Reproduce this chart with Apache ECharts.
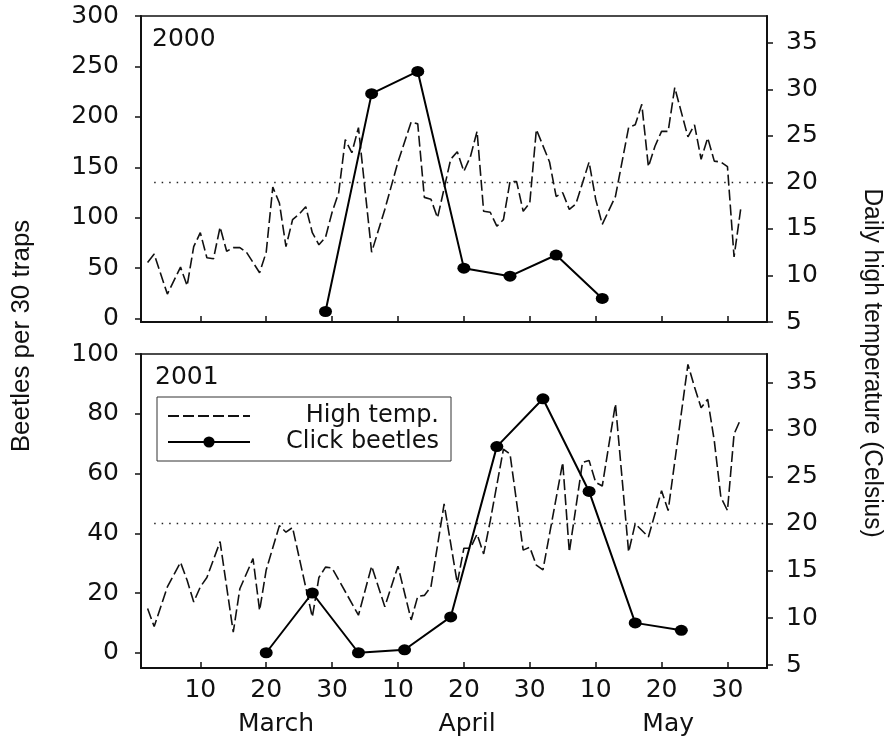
<!DOCTYPE html>
<html>
<head>
<meta charset="utf-8">
<title>Click beetles and daily high temperature, 2000 and 2001</title>
<script src="https://cdn.jsdelivr.net/npm/echarts@6.0.0/dist/echarts.min.js"></script>
<style>
  html, body { margin: 0; padding: 0; background: #fff; }
  #chart { width: 895px; height: 738px; }
</style>
</head>
<body>
<div id="chart"></div>
<script>
// day 1 = 1 March; the axis counts each month as 30 days (10, 20, 30 repeat)
const tempDays2000 = [2, 3, 5, 7, 8, 9, 10, 11, 12, 13, 14, 15, 16, 17, 19, 20, 21, 22, 23, 24, 25, 26, 27, 28, 29, 30, 31, 32, 33, 34, 36, 38, 40, 42, 43, 44, 45, 46, 48, 49, 50, 51, 52, 53, 54, 55, 56, 57, 58, 59, 60, 61, 63, 64, 65, 66, 67, 69, 70, 71, 73, 75, 76, 77, 78, 79, 80, 81, 82, 84, 85, 86, 87, 88, 89, 90, 91, 92]
const temp2000 = [11.4, 12.3, 8.0, 10.9, 8.9, 13.1, 14.6, 11.9, 11.8, 15.2, 12.6, 13.0, 13.0, 12.5, 10.3, 12.5, 19.5, 17.8, 13.1, 16.0, 16.6, 17.4, 14.6, 13.3, 14.1, 16.8, 18.9, 24.6, 23.2, 25.9, 12.5, 17.1, 22.2, 26.5, 26.3, 18.4, 18.2, 16.2, 22.5, 23.3, 21.2, 22.8, 25.5, 16.9, 16.8, 15.3, 16.0, 20.1, 20.1, 16.9, 17.8, 25.7, 22.2, 18.5, 18.9, 17.1, 17.7, 22.2, 18.2, 15.5, 18.5, 25.9, 26.2, 28.4, 21.7, 23.9, 25.5, 25.5, 30.2, 24.9, 26.2, 22.5, 24.8, 22.3, 22.2, 21.7, 12.0, 17.1]
const beetleDays2000 = [29, 36, 43, 50, 57, 64, 71]
const beetles2000 = [7, 223, 245, 50, 42, 63, 20]

const tempDays2001 = [2, 3, 5, 7, 8, 9, 10, 11, 13, 15, 16, 18, 19, 20, 22, 23, 24, 27, 28, 29, 30, 34, 36, 38, 40, 42, 43, 44, 45, 47, 49, 50, 51, 52, 53, 54, 56, 57, 59, 60, 61, 62, 65, 66, 68, 69, 70, 71, 73, 75, 76, 78, 80, 81, 84, 85, 86, 87, 88, 89, 90, 91, 92]
const temp2001 = [11.0, 9.1, 13.3, 15.9, 14.0, 11.7, 13.3, 14.3, 18.1, 8.5, 13.1, 16.3, 10.8, 15.1, 19.8, 19.1, 19.6, 10.1, 14.3, 15.4, 15.3, 10.3, 15.5, 11.2, 15.5, 9.8, 12.3, 12.4, 13.3, 22.1, 13.7, 17.4, 17.4, 18.9, 16.8, 20.3, 27.9, 27.4, 17.2, 17.5, 15.6, 15.1, 26.5, 17.0, 26.5, 26.7, 24.4, 24.0, 32.7, 17.0, 20.0, 18.6, 23.5, 21.4, 36.9, 34.5, 32.3, 33.2, 28.8, 22.8, 21.4, 29.5, 31.1]
const beetleDays2001 = [20, 27, 34, 41, 48, 55, 62, 69, 76, 83]
const beetles2001 = [0, 20, 0, 1, 12, 69, 85, 54, 10, 7.5]

const dayTicks = [10, 20, 30, 40, 50, 60, 70, 80, 90]
const monthNames = ['March', 'April', 'May']
const monthCentres = [21.5, 50.5, 81]
const beetleTicks2000 = [0, 50, 100, 150, 200, 250, 300]
const beetleTicks2001 = [0, 20, 40, 60, 80, 100]
const tempTicks = [5, 10, 15, 20, 25, 30, 35]
const referenceTemp = 20

const ink = '#111'
const labelFont = 'DejaVu Sans'
const titleFont = "'Liberation Sans', Arial, sans-serif"

function pairs (xs, ys) {
  return xs.map((x, i) => [x, ys[i]])
}

function dayAxis (gridIndex, showLabels) {
  return {
    type: 'value',
    gridIndex: gridIndex,
    min: 1,
    max: 96,
    axisLine: { onZero: false, lineStyle: { color: ink, width: 2 } },
    axisTick: { inside: true, length: 6, customValues: dayTicks, lineStyle: { color: ink, width: 1.5 } },
    axisLabel: {
      show: showLabels,
      customValues: dayTicks,
      formatter: v => String(((v - 1) % 30) + 1),
      margin: 10,
      color: ink,
      fontSize: 25,
      fontFamily: labelFont
    },
    splitLine: { show: false }
  }
}

function valueAxis (gridIndex, position, min, max, ticks) {
  return {
    type: 'value',
    gridIndex: gridIndex,
    position: position,
    min: min,
    max: max,
    axisLine: { show: true, onZero: false, lineStyle: { color: ink, width: 2 } },
    axisTick: { show: true, length: 6, customValues: ticks, lineStyle: { color: ink, width: 1.5 } },
    axisLabel: {
      customValues: ticks,
      margin: position === 'left' ? 22 : 19,
      color: ink,
      fontSize: 25,
      fontFamily: labelFont
    },
    splitLine: { show: false }
  }
}

function tempSeries (axisIndex, yIndex, days, temps) {
  return {
    type: 'line',
    name: 'High temp.',
    xAxisIndex: axisIndex,
    yAxisIndex: yIndex,
    data: pairs(days, temps),
    symbol: 'none',
    z: 2,
    itemStyle: { color: ink },
    lineStyle: { color: ink, width: 1.6, type: [11, 4] },
    markLine: {
      silent: true,
      symbol: ['none', 'none'],
      label: { show: false },
      lineStyle: { color: '#222', width: 1.4, type: [1.5, 6] },
      data: [[{ coord: [3, referenceTemp] }, { coord: [96, referenceTemp] }]]
    }
  }
}

function beetleSeries (axisIndex, yIndex, days, counts) {
  return {
    type: 'line',
    name: 'Click beetles',
    xAxisIndex: axisIndex,
    yAxisIndex: yIndex,
    data: pairs(days, counts),
    symbol: 'circle',
    symbolSize: [13, 11],
    z: 3,
    itemStyle: { color: '#000' },
    lineStyle: { color: '#000', width: 2 }
  }
}

function sideTitle (text, x, y, rotation, stretch) {
  return {
    type: 'text',
    x: x,
    y: y,
    rotation: rotation,
    scaleX: stretch,
    style: { text: text, fill: ink, font: '26px ' + titleFont, align: 'center', verticalAlign: 'middle' }
  }
}

const chart = echarts.init(document.getElementById('chart'))

chart.setOption({
  animation: false,
  backgroundColor: '#fff',
  grid: [
    { left: 141, top: 16, width: 626, height: 306, show: true, borderColor: ink, borderWidth: 1.5 },
    { left: 141, top: 354, width: 626, height: 314, show: true, borderColor: ink, borderWidth: 1.5 }
  ],
  xAxis: [
    dayAxis(0, false),
    dayAxis(1, true),
    // month names under the day numbers
    {
      type: 'value',
      gridIndex: 1,
      min: 1,
      max: 96,
      position: 'bottom',
      offset: 34,
      axisLine: { show: false },
      axisTick: { show: false },
      splitLine: { show: false },
      axisLabel: {
        customValues: monthCentres,
        formatter: v => monthNames[monthCentres.indexOf(v)],
        margin: 10,
        color: ink,
        fontSize: 25,
        fontFamily: labelFont
      }
    }
  ],
  yAxis: [
    valueAxis(0, 'left', -3.4, 300, beetleTicks2000),
    valueAxis(0, 'right', 5, 37.9, tempTicks),
    valueAxis(1, 'left', -5.1, 100, beetleTicks2001),
    valueAxis(1, 'right', 4.7, 38, tempTicks)
  ],
  legend: {
    // the temperature key is a bare dashed line, so hide its marker
    data: [{ name: 'High temp.', itemStyle: { opacity: 0 } }, 'Click beetles'],
    orient: 'vertical',
    left: 157,
    top: 397,
    padding: [7, 12, 7, 10],
    itemGap: 2,
    itemWidth: 82,
    itemHeight: 14,
    borderColor: '#333',
    borderWidth: 1,
    selectedMode: false,
    formatter: name => '{t|' + name + '}',
    textStyle: {
      color: ink,
      fontSize: 24,
      fontFamily: labelFont,
      rich: { t: { width: 184, align: 'right', lineHeight: 27, fontSize: 24, fontFamily: labelFont, color: ink } }
    }
  },
  graphic: [
    { type: 'text', x: 152, y: 39, style: { text: '2000', fill: ink, font: '25px ' + labelFont, verticalAlign: 'middle' } },
    { type: 'text', x: 155, y: 377, style: { text: '2001', fill: ink, font: '25px ' + labelFont, verticalAlign: 'middle' } },
    sideTitle('Beetles per 30 traps', 22, 336, Math.PI / 2, 1),
    sideTitle('Daily high temperature (Celsius)', 872, 363, -Math.PI / 2, 0.94)
  ],
  series: [
    tempSeries(0, 1, tempDays2000, temp2000),
    beetleSeries(0, 0, beetleDays2000, beetles2000),
    tempSeries(1, 3, tempDays2001, temp2001),
    beetleSeries(1, 2, beetleDays2001, beetles2001)
  ]
})
</script>
</body>
</html>
